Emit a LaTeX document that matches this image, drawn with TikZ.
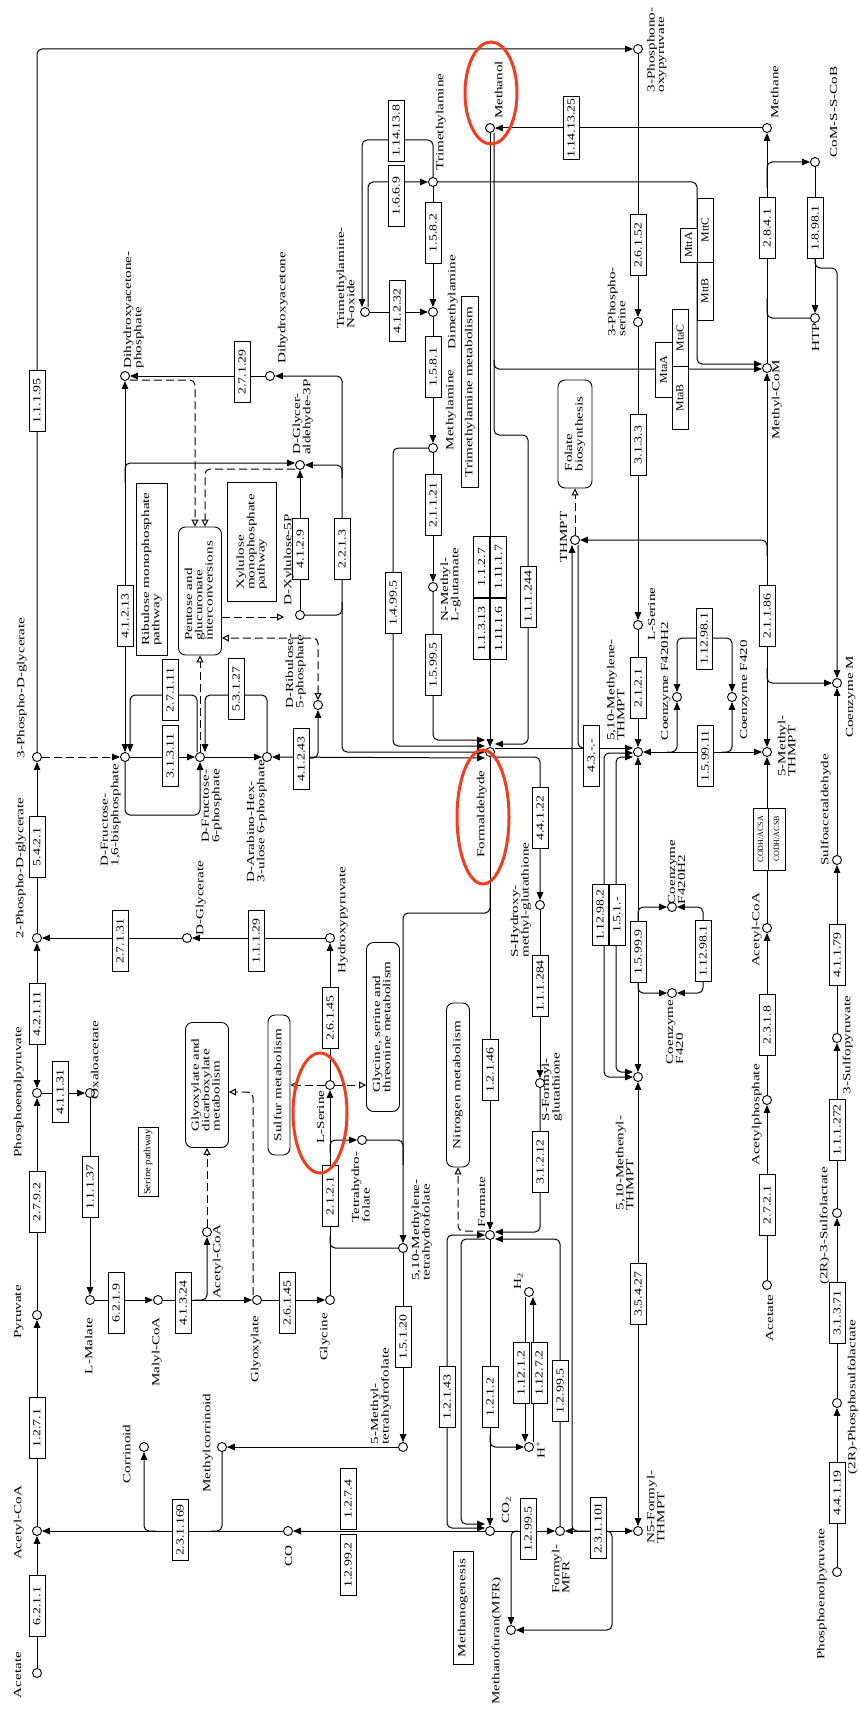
\documentclass[tikz,border=0pt]{standalone}
\usepackage{fontspec}
\setmainfont{Liberation Serif}
\usepackage{graphicx}
\usetikzlibrary{arrows.meta}
\pgfdeclarelayer{bg}
\pgfsetlayers{bg,main}
\definecolor{kred}{RGB}{240,62,30}
\newcommand{\tx}[1]{\scalebox{1.4}[1]{\begin{tabular}{@{}l@{}}#1\end{tabular}}}
\newcommand{\ez}[1]{\scalebox{1.28}[1]{#1}}
\tikzset{
  cpd/.style={circle,draw,fill=white,inner sep=0pt,minimum size=9pt,line width=0.9pt},
  lab/.style={rotate=90,inner sep=0pt,font=\fontsize{10.8}{9.6}\selectfont},
  enz/.style={draw,fill=white,rotate=90,inner sep=0pt,minimum width=61pt,minimum height=16pt,line width=0.9pt,font=\fontsize{10.8}{9.6}\selectfont},
  mbox/.style={draw,fill=white,rotate=90,inner sep=1pt,line width=0.9pt,font=\fontsize{10.8}{9.6}\selectfont},
  rmbox/.style={mbox,rounded corners=7pt},
  ln/.style={line width=1pt,rounded corners=5pt},
  ar/.style={ln,-{Triangle[length=8pt,width=6.5pt]}},
  ra/.style={ln,{Triangle[length=8pt,width=6.5pt]}-},
  arr/.style={ln,{Triangle[length=8pt,width=6.5pt]}-{Triangle[length=8pt,width=6.5pt]}},
  dsh/.style={ln,dash pattern=on 8pt off 4pt},
  oa/.style={-{Triangle[open,length=7pt,width=7pt]}},
  ooa/.style={{Triangle[open,length=7pt,width=7pt]}-{Triangle[open,length=7pt,width=7pt]}},
  sa/.style={-{Triangle[length=8pt,width=6.5pt]}},
  hl/.style={draw=kred,line width=3pt},
}
\begin{document}
\begin{tikzpicture}[x=1pt,y=-1pt]
\useasboundingbox (0,0) rectangle (859,1715);
% ---------------- compounds
\node[cpd] (pgly3) at (37,757) {};
\node[cpd] (pgly2) at (37,938) {};
\node[cpd] (pep) at (37,1093) {};
\node[cpd] (pyr) at (37,1315) {};
\node[cpd] (accoa) at (37,1531) {};
\node[cpd] (acetate) at (37,1673) {};
\node[cpd] (ppyr) at (638,49) {};
\node[cpd] (pser) at (638,322) {};
\node[cpd] (lserR) at (638,625) {};
\node[cpd] (mlthmpt) at (638,752) {};
\node[cpd] (mnthmpt) at (638,1077) {};
\node[cpd] (fthmpt) at (638,1531) {};
\node[cpd] (thmpt) at (575,540) {};
\node[cpd] (methanol) at (490,128) {};
\node[cpd] (methane) at (767,128) {};
\node[cpd] (comscob) at (815,162) {};
\node[cpd] (htp) at (815,318) {};
\node[cpd] (methylcom) at (767,368) {};
\node[cpd] (methylthmpt) at (767,752) {};
\node[cpd] (coenzm) at (837,683) {};
\node[cpd] (accoaR) at (767,928) {};
\node[cpd] (acp) at (767,1100) {};
\node[cpd] (acetateR) at (767,1285) {};
\node[cpd] (sulfoald) at (837,860) {};
\node[cpd] (sulfopyr) at (837,1038) {};
\node[cpd] (sulfolac) at (837,1213) {};
\node[cpd] (psulfolac) at (837,1403) {};
\node[cpd] (pepR) at (837,1572) {};
\node[cpd] (f420h2a) at (677,697) {};
\node[cpd] (f420a) at (732,697) {};
\node[cpd] (f420h2b) at (672,907) {};
\node[cpd] (f420b) at (672,993) {};
\node[cpd] (tma) at (433,182) {};
\node[cpd] (tmao) at (365,312) {};
\node[cpd] (dma) at (433,312) {};
\node[cpd] (mea) at (433,448) {};
\node[cpd] (nmg) at (433,587) {};
\node[cpd] (fald) at (490,752) {};
\node[cpd] (formate) at (490,1235) {};
\node[cpd] (co2) at (490,1531) {};
\node[cpd] (h2) at (529,1292) {};
\node[cpd] (hplus) at (529,1447) {};
\node[cpd] (fmfr) at (560,1531) {};
\node[cpd] (mfr) at (511,1630) {};
\node[cpd] (co) at (288,1531) {};
\node[cpd] (methylcorr) at (222,1447) {};
\node[cpd] (corr) at (144,1447) {};
\node[cpd] (mthf5) at (403,1447) {};
\node[cpd] (mthf) at (403,1248) {};
\node[cpd] (thf) at (362,1140) {};
\node[cpd] (lser) at (330,1085) {};
\node[cpd] (hpyr) at (330,938) {};
\node[cpd] (dglyc) at (187,938) {};
\node[cpd] (glycine) at (330,1300) {};
\node[cpd] (glyox) at (257,1300) {};
\node[cpd] (malcoa) at (158,1300) {};
\node[cpd] (lmal) at (90,1300) {};
\node[cpd] (oaa) at (90,1093) {};
\node[cpd] (accoaM) at (207,1232) {};
\node[cpd] (hmg) at (540,905) {};
\node[cpd] (sfg) at (540,1083) {};
\node[cpd] (dhap) at (125,376) {};
\node[cpd] (dha) at (270,376) {};
\node[cpd] (g3p) at (300,465) {};
\node[cpd] (xu5p) at (300,615) {};
\node[cpd] (ru5p) at (318,705) {};
\node[cpd] (fbp) at (125,757) {};
\node[cpd] (f6p) at (200,757) {};
\node[cpd] (hu6p) at (267,757) {};
\coordinate (xuin) at (284,617);
% ---------------- enzyme boxes
\node[enz] (e1) at (37,401) {\ez{1.1.1.95}};
\node[enz] (e2) at (37,847) {\ez{5.4.2.1}};
\node[enz] (e3) at (37,1014) {\ez{4.2.1.11}};
\node[enz] (e4) at (37,1202) {\ez{2.7.9.2}};
\node[enz] (e5) at (37,1428) {\ez{1.2.7.1}};
\node[enz] (e6) at (37,1606) {\ez{6.2.1.1}};
\node[enz] (e7) at (242,372) {\ez{2.7.1.29}};
\node[enz] (e8) at (125,616) {\ez{4.1.2.13}};
\node[enz] (e9) at (170,690) {\ez{2.7.1.11}};
\node[enz] (e10) at (170,756) {\ez{3.1.3.11}};
\node[enz] (e11) at (236,689) {\ez{5.3.1.27}};
\node[enz] (e12) at (300,549) {\ez{4.1.2.9}};
\node[enz] (e13) at (342,549) {\ez{2.2.1.3}};
\node[enz] (e14) at (301,759) {\ez{4.1.2.43}};
\node[enz] (e15) at (396,131) {\ez{1.14.13.8}};
\node[enz] (e16) at (396,196) {\ez{1.6.6.9}};
\node[enz] (e17) at (433,233) {\ez{1.5.8.2}};
\node[enz] (e18) at (397,311) {\ez{4.1.2.32}};
\node[enz] (e19) at (433,367) {\ez{1.5.8.1}};
\node[enz] (e20) at (433,505) {\ez{2.1.1.21}};
\node[enz] (e21) at (393,603) {\ez{1.4.99.5}};
\node[enz] (e22) at (433,665) {\ez{1.5.99.5}};
\node[enz] (e23) at (481.5,567) {\ez{1.1.2.7}};
\node[enz] (e24) at (481.5,629) {\ez{1.1.3.13}};
\node[enz] (e25) at (498.5,567) {\ez{1.11.1.7}};
\node[enz] (e26) at (498.5,629) {\ez{1.11.1.6}};
\node[enz] (e27) at (528,597) {\ez{1.1.1.244}};
\node[enz] (e28) at (540,818) {\ez{4.4.1.22}};
\node[enz] (e29) at (540,986) {\ez{1.1.1.284}};
\node[enz] (e30) at (540,1162) {\ez{3.1.2.12}};
\node[enz] (e31) at (490,1070) {\ez{1.2.1.46}};
\node[enz,minimum width=63pt] (e32) at (571,128) {\ez{1.14.13.25}};
\node[enz] (e33) at (638,245) {\ez{2.6.1.52}};
\node[enz] (e34) at (638,445) {\ez{3.1.3.3}};
\node[enz] (e35) at (638,688) {\ez{2.1.2.1}};
\node[enz] (e36) at (704,639) {\ez{1.12.98.1}};
\node[enz] (e37) at (705,756) {\ez{1.5.99.11}};
\node[enz] (e38) at (591,756) {\ez{4.3.-.-}};
\node[enz] (e39) at (600,915) {\ez{1.12.98.2}};
\node[enz] (e40) at (617,915) {\ez{1.5.1.-}};
\node[enz] (e41) at (638,952) {\ez{1.5.99.9}};
\node[enz] (e42) at (703,951) {\ez{1.12.98.1}};
\node[enz] (e43) at (638,1294) {\ez{3.5.4.27}};
\node[enz] (e44) at (598,1528) {\ez{2.3.1.101}};
\node[enz] (e45) at (767,228) {\ez{2.8.4.1}};
\node[enz] (e46) at (815,228) {\ez{1.8.98.1}};
\node[enz] (e47) at (767,616) {\ez{2.1.1.86}};
\node[enz] (e48) at (767,1025) {\ez{2.3.1.8}};
\node[enz] (e49) at (767,1205) {\ez{2.7.2.1}};
\node[enz] (e50) at (837,955) {\ez{4.1.1.79}};
\node[enz] (e51) at (837,1130) {\ez{1.1.1.272}};
\node[enz] (e52) at (837,1313) {\ez{3.1.3.71}};
\node[enz] (e53) at (837,1493) {\ez{4.4.1.19}};
\node[enz] (e54) at (120,941) {\ez{2.7.1.31}};
\node[enz] (e55) at (256,941) {\ez{1.1.1.29}};
\node[enz] (e56) at (60,1092) {\ez{4.1.1.31}};
\node[enz] (e57) at (90,1187) {\ez{1.1.1.37}};
\node[enz] (e58) at (330,1018) {\ez{2.6.1.45}};
\node[enz] (e59) at (330,1196) {\ez{2.1.2.1}};
\node[enz] (e60) at (116,1303) {\ez{6.2.1.9}};
\node[enz] (e61) at (183,1303) {\ez{4.1.3.24}};
\node[enz] (e62) at (287,1303) {\ez{2.6.1.45}};
\node[enz] (e63) at (180,1530) {\ez{2.3.1.169}};
\node[enz] (e64) at (348,1499) {\ez{1.2.7.4}};
\node[enz] (e65) at (348,1565) {\ez{1.2.99.2}};
\node[enz] (e66) at (403,1337) {\ez{1.5.1.20}};
\node[enz] (e67) at (447,1397) {\ez{1.2.1.43}};
\node[enz] (e68) at (490,1397) {\ez{1.2.1.2}};
\node[enz] (e69) at (521,1373) {\ez{1.12.1.2}};
\node[enz] (e70) at (539,1373) {\ez{1.12.7.2}};
\node[enz] (e71) at (560,1391) {\ez{1.2.99.5}};
\node[enz] (e72) at (528,1529) {\ez{1.2.99.5}};
\node[enz,minimum width=34pt,minimum height=17pt] (mtta) at (688.5,245) {\scalebox{1.1}[1]{MttA}};
\node[enz,minimum width=64pt] (mttc) at (705,230) {\scalebox{1.1}[1]{MttC}};
\node[enz,minimum width=58pt] (mttb) at (705,291) {\scalebox{1.1}[1]{MttB}};
\node[enz,minimum width=55pt,minimum height=17pt] (mtaa) at (663.5,369.5) {\scalebox{1.1}[1]{MtaA}};
\node[enz,minimum width=57pt] (mtac) at (680,338) {\scalebox{1.1}[1]{MtaC}};
\node[enz,minimum width=63pt] (mtab) at (680,398) {\scalebox{1.1}[1]{MtaB}};
\node[enz,minimum width=62pt,minimum height=15pt,font=\fontsize{8}{7}\selectfont] (codha) at (760.5,839) {CODH/ACSA};
\node[enz,minimum width=62pt,minimum height=17pt,font=\fontsize{8}{7}\selectfont] (codhb) at (776.5,839) {CODH/ACSB};
% ---------------- map boxes
\node[mbox,minimum width=172pt,minimum height=31pt] (rmp) at (152,569) {\tx{Ribulose monophosphate\\pathway}};
\node[mbox,minimum width=119pt,minimum height=49pt] (xmp) at (252,542) {\tx{Xylulose\\monophosphate\\pathway}};
\node[mbox,minimum width=191pt,minimum height=17pt] (tmam) at (470,392) {\tx{Trimethylamine metabolism}};
\node[mbox,minimum width=69pt,minimum height=20pt,font=\fontsize{9.5}{9}\selectfont] (serp) at (148,1162) {\scalebox{1.12}[1]{Serine pathway}};
\node[mbox,minimum width=113pt,minimum height=20pt] (mgen) at (463,1608) {\tx{Methanogenesis}};
\node[rmbox,minimum width=128pt,minimum height=43pt] (pent) at (200,591) {\tx{Pentose and\\glucuronate\\interconversions}};
\node[rmbox,minimum width=108pt,minimum height=34pt] (folb) at (575,434) {\tx{Folate\\biosynthesis}};
\node[rmbox,minimum width=125pt,minimum height=43pt] (glyb) at (207,1085) {\tx{Glyoxylate and\\dicarboxylate\\metabolism}};
\node[rmbox,minimum width=140pt,minimum height=22pt] (sulfb) at (279,1085) {\tx{Sulfur metabolism}};
\node[rmbox,minimum width=169pt,minimum height=33pt] (glyser) at (383,1027) {\tx{Glycine, serine and\\threonine metabolism}};
\node[rmbox,minimum width=164pt,minimum height=23pt] (nitro) at (458,1085) {\tx{Nitrogen metabolism}};
% ---------------- labels
\node[lab] (l1) at (22,688) {\tx{3-Phospho-D-glycerate}};
\node[lab] (l2) at (21,868) {\tx{2-Phospho-D-glycerate}};
\node[lab] (l3) at (19,1092) {\tx{Phosphoenolpyruvate}};
\node[lab] (l4) at (19,1312) {\tx{Pyruvate}};
\node[lab] (l5) at (19,1523) {\tx{Acetyl-CoA}};
\node[lab] (l6) at (19,1675) {\tx{Acetate}};
\node[lab] (l7) at (657,50) {\tx{3-Phosphono-\\oxypyruvate}};
\node[lab] (l8) at (500,90) {\tx{Methanol}};
\node[lab] (l9) at (441,122) {\tx{Trimethylamine}};
\node[lab] (l10) at (347,278) {\tx{Trimethylamine-\\N-oxide}};
\node[lab] (l11) at (453,302) {\tx{Dimethylamine}};
\node[lab] (l12) at (451,410) {\tx{Methylamine}};
\node[lab] (l13) at (451,585) {\tx{N-Methyl-\\L-glutamate}};
\node[lab] (l14) at (134,310) {\tx{Dihydroxyacetone-\\phosphate}};
\node[lab] (l15) at (283,308) {\tx{Dihydroxyacetone}};
\node[lab] (l16) at (303,417) {\tx{D-Glycer-\\aldehyde-3P}};
\node[lab] (l17) at (289,560) {\tx{D-Xylulose-5P}};
\node[lab] (l18) at (296,671) {\tx{D-Ribulose-\\5-phosphate}};
\node[lab] (l19) at (111,815) {\tx{D-Fructose-\\1,6-bisphosphate}};
\node[lab] (l20) at (212,806) {\tx{D-Fructose-\\6-phosphate}};
\node[lab] (l21) at (257,821) {\tx{D-Arabino-Hex-\\3-ulose 6-phosphate}};
\node[lab] (l22) at (201,898) {\tx{D-Glycerate}};
\node[lab] (l23) at (343,920) {\tx{Hydroxypyruvate}};
\node[lab] (l24) at (96,1060) {\tx{Oxaloacetate}};
\node[lab] (l25) at (90,1346) {\tx{L-Malate}};
\node[lab] (l26) at (157,1352) {\tx{Malyl-CoA}};
\node[lab] (l27) at (256,1349) {\tx{Glyoxylate}};
\node[lab] (l28) at (325,1337) {\tx{Glycine}};
\node[lab] (l29) at (218,1262) {\tx{Acetyl-CoA}};
\node[lab] (l30) at (322,1117) {\tx{L-Serine}};
\node[lab] (l31) at (362,1187) {\tx{Tetrahydro-\\folate}};
\node[lab] (l32) at (422,1230) {\tx{5,10-Methylene-\\tetrahydrofolate}};
\node[lab] (l33) at (381,1396) {\tx{5-Methyl-\\tetrahydrofolate}};
\node[lab] (l34) at (208,1443) {\tx{Methylcorrinoid}};
\node[lab] (l35) at (128,1454) {\tx{Corrinoid}};
\node[lab] (l36) at (290,1556) {\tx{CO}};
\node[lab] (l37) at (507,1510) {\tx{CO\textsubscript{2}}};
\node[lab] (l38) at (483,1202) {\tx{Formate}};
\node[lab] (l39) at (519,1281) {\tx{H\textsubscript{2}}};
\node[lab] (l40) at (542,1450) {\tx{H\textsuperscript{+}}};
\node[lab] (l41) at (562,1569) {\tx{Formyl-\\MFR}};
\node[lab] (l42) at (497,1641) {\tx{Methanofuran(MFR)}};
\node[lab] (l43) at (482,814) {\tx{Formaldehyde}};
\node[lab] (l44) at (521,900) {\tx{S-Hydroxy-\\methyl-glutathione}};
\node[lab] (l45) at (552,1087) {\tx{S-Formyl-\\glutathione}};
\node[lab] (l46) at (657,1507) {\tx{N5-Formyl-\\THMPT}};
\node[lab] (l47) at (626,1163) {\tx{5,10-Methenyl-\\THMPT}};
\node[lab] (l48) at (678,872) {\tx{Coenzyme\\F420H2}};
\node[lab] (l49) at (676,1032) {\tx{Coenzyme\\F420}};
\node[lab] (l50) at (617,690) {\tx{5,10-Methylene-\\THMPT}};
\node[lab] (l51) at (653,614) {\tx{L-Serine}};
\node[lab] (l52) at (565,537) {\tx{THMPT}};
\node[lab] (l53) at (618,302) {\tx{3-Phospho-\\serine}};
\node[lab] (l54) at (666,681) {\tx{Coenzyme F420H2}};
\node[lab] (l55) at (745,690) {\tx{Coenzyme F420}};
\node[lab] (l56) at (788,746) {\tx{5-Methyl-\\THMPT}};
\node[lab] (l57) at (851,697) {\tx{Coenzyme M}};
\node[lab] (l58) at (777,400) {\tx{Methyl-CoM}};
\node[lab] (l59) at (776,92) {\tx{Methane}};
\node[lab] (l60) at (835,112) {\tx{CoM-S-S-CoB}};
\node[lab] (l61) at (817,337) {\tx{HTP}};
\node[lab] (l62) at (757,930) {\tx{Acetyl-CoA}};
\node[lab] (l63) at (757,1115) {\tx{Acetylphosphate}};
\node[lab] (l64) at (771,1318) {\tx{Acetate}};
\node[lab] (l65) at (826,810) {\tx{Sulfoacetaldehyde}};
\node[lab] (l66) at (848,1045) {\tx{3-Sulfopyruvate}};
\node[lab] (l67) at (825,1226) {\tx{(2R)-3-Sulfolactate}};
\node[lab] (l68) at (853,1397) {\tx{(2R)-Phosphosulfolactate}};
\node[lab] (l69) at (822,1594) {\tx{Phosphoenolpyruvate}};
% ---------------- connectors
\begin{pgfonlayer}{bg}
\fill[white] (0,0) rectangle (859,1715);
% left column
\draw[ar] (pgly3) |- (ppyr);
\draw[ar] (pgly2) -- (pgly3);
\draw[arr] (pep) -- (pgly2);
\draw[ar] (pyr) -- (pep);
\draw[ar] (accoa) -- (pyr);
\draw[ar] (acetate) -- (accoa);
\draw[dsh,sa] (pgly3) -- (fbp);
\draw[ar] (dglyc) -- (pgly2);
\draw[ar] (hpyr) -- (dglyc);
\draw[ar] (lser) -- (hpyr);
\draw[ar] (pep) -- (oaa);
\draw[ar] (oaa) -- (lmal);
\draw[ar] (lmal) -- (malcoa);
\draw[ar] (malcoa) -- (glyox);
\draw[ar] (194,1300) -| (accoaM);
\draw[ar] (glyox) -- (glycine);
\draw[ar] (glycine) -- (lser);
\draw[ar] (330,1153) |- (thf);
\draw[ln] (330,1236) |- (mthf);
\draw[ar] (490,888) |- (403,913) -- (mthf);
\draw[ln] (thf) -| (403,1165);
\draw[ar] (mthf) -- (mthf5);
\draw[ar] (mthf5) -- (methylcorr);
\draw[ln] (methylcorr) |- (211,1531);
\draw[ar] (156,1531) -| (corr);
\draw[ar] (co) -- (accoa);
\draw[ar] (co2) -- (co);
% formate area
\draw[ar] (fald) -- (formate);
\draw[ar] (formate) -- (co2);
\draw[ar] (490,1435) |- (hplus);
\draw[ar] ([xshift=-4pt]h2.south) -- ([xshift=-4pt]hplus.north);
\draw[ar] ([xshift=4pt]hplus.north) -- ([xshift=4pt]h2.south);
\draw[arr] (formate.west) -| (447,1400) |- ([yshift=3pt]co2.west);
\draw[ar] ([yshift=-4pt]formate.west) -| (461,1400) |- ([yshift=7pt]co2.west);
\draw[dsh,oa] ([yshift=4pt]formate.west) -| (nitro.west);
\draw[ar] (sfg) |- ([yshift=3pt]formate.east);
\draw[ar] (fmfr) |- ([yshift=-4pt]formate.east);
\draw[ar] (hmg) -- (sfg);
\draw[ar] ([yshift=-5pt]fald.east) -| (hmg);
\draw[ar] (co2) -- (fmfr);
\draw[ar] (518,1531) -| (mfr);
\draw[arr] (fmfr) -- (fthmpt);
\draw[ar] (606,1531) -| (612,1590) |- (mfr);
% methanol / amines
\draw[ar] (methane) -- (methanol);
\draw[ar] (methanol) -- (fald);
\draw[ar] ([xshift=4pt]methanol.south) |- ([yshift=-1pt]methylcom.west);
\draw[ar] (494,360) |- (528,435) |- ([yshift=8pt]fald.east);
\draw[ar] (tma) -| (697,300) |- ([yshift=4pt]methylcom.west);
\draw[ar] (tma) |- (362,140) -- ([xshift=-3pt]tmao.north);
\draw[ar] ([xshift=3pt]tmao.north) |- (tma);
\draw[ar] (tma) -- (dma);
\draw[ar] (tmao) -- (dma);
\draw[ar] (dma) -- (mea);
\draw[ar] (mea) -- (nmg);
\draw[ar] (mea) -| (393,600) |- ([yshift=6pt]fald.west);
\draw[ar] (nmg) |- ([yshift=12pt]fald.west);
% methyl-CoM area
\draw[ar] (methylcom) -- (methane);
\draw[ar] (767,188) |- (comscob);
\draw[ln] (htp) -| (767,298);
\draw[ar] (comscob) -- (htp);
\draw[ar] (815,258) |- (837,268) -- (coenzm);
\draw[arr] (methylcom) -- (methylthmpt);
\draw[ar] (767,556) |- (thmpt);
\draw[ar] (767,668) |- (coenzm);
\draw[ar] (sulfoald) -- (coenzm);
\draw[ar] (accoaR) -- (methylthmpt);
\draw[ar] (acp) -- (accoaR);
\draw[ar] (acetateR) -- (acp);
\draw[ar] (sulfopyr) -- (sulfoald);
\draw[ar] (sulfolac) -- (sulfopyr);
\draw[ar] (psulfolac) -- (sulfolac);
\draw[ar] (pepR) -- (psulfolac);
% THMPT area
\draw[ra] ([xshift=-3pt]thmpt.south) |- (592,1531);
\draw[ln] ([xshift=3pt]thmpt.south) |- (588,748);
\draw[dsh,oa] (thmpt) -- (folb.west);
\draw[ar] (ppyr) -- (pser);
\draw[ar] (pser) -- (lserR);
\draw[ar] (lserR) -- (mlthmpt);
\draw[arr] (mlthmpt) -- (mnthmpt);
\draw[arr] (mnthmpt) -- (fthmpt);
\draw[ar] ([yshift=4pt]fald.east) -- ([yshift=4pt]mlthmpt.west);
\draw[arr] ([yshift=-1pt]mlthmpt.west) -| (604,900) |- (mnthmpt.west);
\draw[arr] ([yshift=-5pt]mlthmpt.west) -| (616,900) |- ([yshift=5pt]mnthmpt.west);
\draw[arr] (mlthmpt) -- (methylthmpt);
\draw[ar] (667,752) -| (f420h2a);
\draw[ar] (722,752) -| (f420a);
\draw[arr] (f420h2a) |- (705,638) -| (f420a);
\draw[ar] (638,922) |- (f420h2b);
\draw[ar] (638,978) |- (f420b);
\draw[arr] (f420h2b) -| (703,950) |- (f420b);
% upper left sugar area
\draw[ar] (dha) -- (dhap);
\draw[arr] (fbp) -- (dhap);
\draw[ar] (125,482) |- ([yshift=2pt]g3p.west);
\draw[arr] (dha) -| (342,600) |- (fald.west);
\draw[ar] (342,478) |- (g3p);
\draw[ln] (342,602) |- (xu5p);
\draw[ar] (xu5p) -- (g3p);
\draw[dsh,oa] ([yshift=-4pt]dhap.east) -| ([xshift=-5pt]pent.east);
\draw[dsh,oa] ([yshift=-4pt]g3p.west) -| ([xshift=5pt]pent.east);
\draw[dsh,oa] (f6p) -- (pent.west);
\draw[dsh,oa] ([yshift=-26pt]pent.south) -- (xuin);
\draw[dsh,ooa] (ru5p) |- ([yshift=-47pt]pent.south);
\draw[ar] (fbp) -- (f6p);
\draw[ar] ([xshift=-3pt]f6p.north) |- (130,695) -- ([xshift=5pt]fbp.north);
\draw[ar] (fbp) |- (200,815) -- (f6p);
\draw[ar] (hu6p) |- (205,695) -- ([xshift=5pt]f6p.north);
\draw[ar] (f6p) -- (hu6p);
\draw[arr] ([yshift=-6pt]fald.west) -- (hu6p);
\draw[ar] (306,758) -| (ru5p);
% map links
\draw[dsh,oa] (accoaM) -- (glyb.west);
\draw[dsh,oa] ([xshift=-4pt]glyox.north) |- ([yshift=-7pt]glyb.south);
\draw[dsh,oa] (lser) -- (lser -| sulfb.south);
\draw[dsh,oa] (lser) -- (lser -| glyser.north);
\end{pgfonlayer}
% ---------------- highlights
\draw[hl] (491,93) ellipse [x radius=26pt, y radius=51pt];
\draw[hl] (483,817) ellipse [x radius=26pt, y radius=67pt];
\draw[hl] (320,1113) ellipse [x radius=27pt, y radius=60pt];
\end{tikzpicture}
\end{document}
